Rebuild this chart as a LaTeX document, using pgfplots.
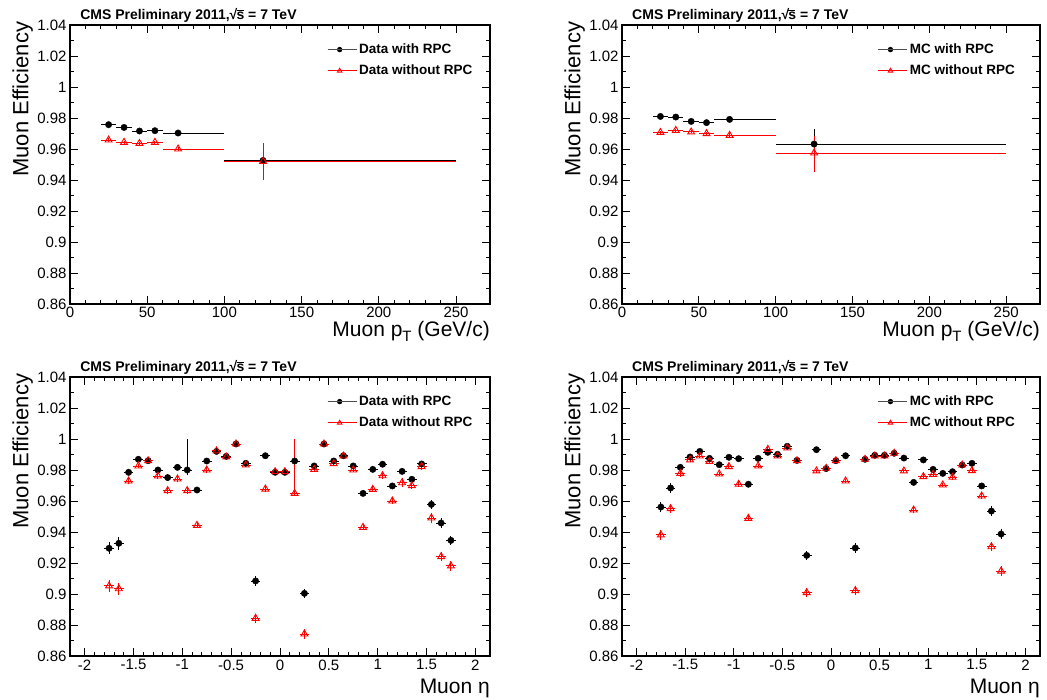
\documentclass[border=0pt]{standalone}
\usepackage{fontspec}
\setmainfont{Liberation Sans}
\usepackage{pgfplots}
\pgfplotsset{compat=1.18}
\usepackage{pgfplotstable}

% ---- pT data: x y exm exp eym eyp
\pgfplotstableread{
x y exm exp eym eyp
25 0.9757 5 5 0.001 0.001
35 0.9739 5 5 0.001 0.001
45 0.9716 5 5 0.001 0.001
55 0.9718 5 5 0.001 0.001
70 0.9703 10 30 0.0015 0.0015
125 0.9526 25 125 0.011 0.011
}\ptDataRPC
\pgfplotstableread{
x y exm exp eym eyp
25 0.9658 5 5 0.001 0.001
35 0.9643 5 5 0.001 0.001
45 0.9636 5 5 0.001 0.001
55 0.9643 5 5 0.001 0.001
70 0.9600 10 30 0.0015 0.0015
125 0.9520 25 125 0.012 0.012
}\ptDataNoRPC
\pgfplotstableread{
x y exm exp eym eyp
25 0.9810 5 5 0.001 0.001
35 0.9806 5 5 0.001 0.001
45 0.9778 5 5 0.001 0.001
55 0.9770 5 5 0.001 0.001
70 0.9791 10 30 0.0015 0.0015
125 0.9632 25 125 0.010 0.010
}\ptMCRPC
\pgfplotstableread{
x y exm exp eym eyp
25 0.9707 5 5 0.001 0.001
35 0.9720 5 5 0.001 0.001
45 0.9710 5 5 0.001 0.001
55 0.9699 5 5 0.001 0.001
70 0.9688 10 30 0.0015 0.0015
125 0.9574 25 125 0.012 0.011
}\ptMCNoRPC

% ---- eta data: x y eym eyp
\pgfplotstableread{
x y eym eyp
-1.75 0.9295 0.004 0.004
-1.65 0.9327 0.004 0.004
-1.55 0.9785 0.002 0.002
-1.45 0.9869 0.0015 0.0015
-1.35 0.9860 0.0015 0.0015
-1.25 0.9800 0.002 0.002
-1.15 0.9751 0.002 0.002
-1.05 0.9817 0.002 0.002
-0.95 0.9800 0.003 0.020
-0.85 0.9671 0.002 0.002
-0.75 0.9858 0.0015 0.0015
-0.65 0.9920 0.0015 0.0015
-0.55 0.9888 0.0015 0.0015
-0.45 0.9968 0.001 0.001
-0.35 0.9843 0.0015 0.0015
-0.25 0.9084 0.003 0.003
-0.15 0.9892 0.0015 0.0015
-0.05 0.9785 0.002 0.002
0.05 0.9785 0.002 0.002
0.15 0.9858 0.002 0.002
0.25 0.9004 0.003 0.003
0.35 0.9826 0.0015 0.0015
0.45 0.9968 0.001 0.001
0.55 0.9858 0.0015 0.0015
0.65 0.9892 0.0015 0.0015
0.75 0.9826 0.0015 0.0015
0.85 0.9649 0.002 0.002
0.95 0.9804 0.002 0.002
1.05 0.9837 0.002 0.002
1.15 0.9697 0.002 0.002
1.25 0.9791 0.002 0.002
1.35 0.9740 0.002 0.002
1.45 0.9839 0.002 0.002
1.55 0.9578 0.003 0.003
1.65 0.9458 0.003 0.003
1.75 0.9346 0.003 0.003
}\etaDataRPC
\pgfplotstableread{
x y eym eyp
-1.75 0.9052 0.004 0.004
-1.65 0.9034 0.004 0.004
-1.55 0.9729 0.002 0.002
-1.45 0.9826 0.0015 0.0015
-1.35 0.9860 0.0015 0.0015
-1.25 0.9761 0.002 0.002
-1.15 0.9667 0.002 0.002
-1.05 0.9742 0.002 0.002
-0.95 0.9667 0.002 0.002
-0.85 0.9443 0.002 0.002
-0.75 0.9800 0.002 0.002
-0.65 0.9923 0.0015 0.0015
-0.55 0.9884 0.0015 0.0015
-0.45 0.9968 0.001 0.001
-0.35 0.9832 0.0015 0.0015
-0.25 0.8843 0.003 0.003
-0.15 0.9677 0.002 0.002
-0.05 0.9789 0.002 0.002
0.05 0.9789 0.002 0.002
0.15 0.9649 0.002 0.035
0.25 0.8742 0.003 0.003
0.35 0.9804 0.0015 0.0015
0.45 0.9968 0.001 0.001
0.55 0.9841 0.0015 0.0015
0.65 0.9890 0.0015 0.0015
0.75 0.9800 0.0015 0.0015
0.85 0.9430 0.002 0.002
0.95 0.9675 0.002 0.002
1.05 0.9763 0.002 0.002
1.15 0.9600 0.002 0.002
1.25 0.9718 0.003 0.003
1.35 0.9699 0.002 0.002
1.45 0.9822 0.002 0.002
1.55 0.9490 0.003 0.003
1.65 0.9241 0.003 0.003
1.75 0.9181 0.003 0.003
}\etaDataNoRPC
\pgfplotstableread{
x y eym eyp
-1.75 0.9561 0.003 0.003
-1.65 0.9684 0.003 0.003
-1.55 0.9817 0.002 0.002
-1.45 0.9884 0.0015 0.0015
-1.35 0.9920 0.0015 0.0015
-1.25 0.9875 0.0015 0.0015
-1.15 0.9834 0.0015 0.0015
-1.05 0.9882 0.0015 0.0015
-0.95 0.9873 0.0015 0.0015
-0.85 0.9708 0.002 0.002
-0.75 0.9875 0.0015 0.0015
-0.65 0.9914 0.0015 0.0015
-0.55 0.9901 0.0015 0.0015
-0.45 0.9953 0.001 0.001
-0.35 0.9862 0.0015 0.0015
-0.25 0.9249 0.003 0.003
-0.15 0.9931 0.0015 0.0015
-0.05 0.9809 0.0015 0.0015
0.05 0.9860 0.0015 0.0015
0.15 0.9892 0.0015 0.0015
0.25 0.9297 0.003 0.003
0.35 0.9869 0.0015 0.0015
0.45 0.9895 0.0015 0.0015
0.55 0.9895 0.0015 0.0015
0.65 0.9908 0.0015 0.0015
0.75 0.9877 0.0015 0.0015
0.85 0.9720 0.0015 0.0015
0.95 0.9865 0.0015 0.0015
1.05 0.9804 0.0015 0.0015
1.15 0.9778 0.0015 0.0015
1.25 0.9789 0.0015 0.0015
1.35 0.9832 0.0015 0.0015
1.45 0.9843 0.0015 0.0015
1.55 0.9697 0.002 0.002
1.65 0.9535 0.003 0.003
1.75 0.9387 0.003 0.003
}\etaMCRPC
\pgfplotstableread{
x y eym eyp
-1.75 0.9381 0.003 0.003
-1.65 0.9551 0.003 0.003
-1.55 0.9778 0.002 0.002
-1.45 0.9865 0.0015 0.0015
-1.35 0.9890 0.0015 0.0015
-1.25 0.9856 0.0015 0.0015
-1.15 0.9774 0.0015 0.0015
-1.05 0.9822 0.0015 0.0015
-0.95 0.9708 0.002 0.002
-0.85 0.9488 0.002 0.002
-0.75 0.9826 0.0015 0.0015
-0.65 0.9933 0.0015 0.0015
-0.55 0.9890 0.0015 0.0015
-0.45 0.9942 0.0015 0.0015
-0.35 0.9860 0.0015 0.0015
-0.25 0.9009 0.003 0.003
-0.15 0.9794 0.0015 0.0015
-0.05 0.9811 0.0015 0.0015
0.05 0.9860 0.0015 0.0015
0.15 0.9729 0.0015 0.0015
0.25 0.9022 0.003 0.003
0.35 0.9869 0.0015 0.0015
0.45 0.9890 0.0015 0.0015
0.55 0.9890 0.0015 0.0015
0.65 0.9908 0.0015 0.0015
0.75 0.9794 0.0015 0.0015
0.85 0.9542 0.002 0.002
0.95 0.9757 0.0015 0.0015
1.05 0.9772 0.0015 0.0015
1.15 0.9703 0.0015 0.0015
1.25 0.9753 0.0015 0.0015
1.35 0.9832 0.0015 0.0015
1.45 0.9796 0.0015 0.0015
1.55 0.9632 0.002 0.002
1.65 0.9305 0.003 0.003
1.75 0.9148 0.003 0.003
}\etaMCNoRPC

\newcommand{\sqrts}{\mbox{√\kern-0.06em\rlap{\rule[0.66em]{0.5em}{0.07em}}s}}

\pgfplotsset{
  rootaxis/.style={
    scale only axis, height=279pt,
    ymin=0.86, ymax=1.04,
    ytick={0.86,0.88,0.9,0.92,0.94,0.96,0.98,1,1.02,1.04},
    yticklabels={0.86,0.88,0.9,0.92,0.94,0.96,0.98,1,1.02,1.04},
    minor y tick num=1,
    tick align=inside,
    major tick length=8pt, minor tick length=4pt,
    axis line style={line width=1.4pt},
    tick style={line width=0.8pt, black},
    tick label style={font=\fontsize{15}{15}\selectfont},
    /pgf/number format/assume math mode=true,
    ylabel={Muon Efficiency},
    every axis y label/.style={at={(axis description cs:-0.088,1.012)}, rotate=90, anchor=south east, inner sep=0pt, font=\fontsize{22}{22}\selectfont},
    every axis x label/.style={at={(axis description cs:1,0)}, anchor=north east, yshift=-17pt, inner sep=0pt, font=\fontsize{21}{21}\selectfont},
    title={CMS Preliminary 2011,\sqrts{} = 7 TeV},
    every axis title/.style={at={(axis description cs:0.024,1)}, anchor=base west, yshift=5pt, inner sep=0pt, font=\bfseries\fontsize{14}{14}\selectfont},
    legend style={draw=none, fill=none, at={(axis description cs:0.612,0.94)}, anchor=north west, font=\bfseries\fontsize{13.5}{14}\selectfont, row sep=6pt, inner sep=0pt},
    legend cell align=left,
    legend image code/.code={\draw[mark repeat=2,mark phase=2,#1] plot coordinates {(0pt,0pt)(12pt,0pt)(24pt,0pt)}; \path (0pt,0pt) -- (29pt,0pt);},
  },
  ptaxis/.style={rootaxis, xmin=0, xmax=272, xtick={0,50,100,150,200,250}, minor x tick num=4,
    xlabel={Muon p\raisebox{-0.45ex}{\fontsize{15}{15}\selectfont T} (GeV/c)}},
  etaaxis/.style={rootaxis, xmin=-2.15, xmax=2.15, xtick={-2,-1.5,-1,-0.5,0,0.5,1,1.5,2},
    xticklabels={-2,-1.5,-1,-0.5,0,0.5,1,1.5,2}, minor x tick num=4,
    xlabel={Muon η}, every axis x label/.append style={yshift=-6pt}},
  blk/.style={black, only marks, mark=*, mark size=3.2pt, forget plot,
    error bars/.cd, x dir=both, x explicit, y dir=both, y explicit, error mark=none,
    error bar style={line width=0.9pt, black}},
  rd/.style={red, only marks, mark=triangle, mark size=4pt, mark options={line width=0.9pt}, forget plot,
    error bars/.cd, x dir=both, x explicit, y dir=both, y explicit, error mark=none,
    error bar style={line width=0.9pt, red}},
}

\begin{document}
\begin{tikzpicture}
\useasboundingbox (0pt,0pt) rectangle (1047pt,700pt);

% top-left
\begin{axis}[ptaxis, width=420pt, at={(70pt,396pt)}, anchor=south west]
\addplot[blk] table[x=x,y=y,x error minus=exm,x error plus=exp,y error minus=eym,y error plus=eyp]{\ptDataRPC};
\addplot[rd] table[x=x,y=y,x error minus=exm,x error plus=exp,y error minus=eym,y error plus=eyp]{\ptDataNoRPC};
\addlegendimage{black!70, line width=0.9pt, mark=*, mark size=2.2pt, mark options={black}}
\addlegendentry{Data with RPC}
\addlegendimage{red, line width=0.9pt, mark=triangle, mark size=2.6pt}
\addlegendentry{Data without RPC}
\end{axis}

% top-right
\begin{axis}[ptaxis, width=418pt, at={(622pt,396pt)}, anchor=south west]
\addplot[blk] table[x=x,y=y,x error minus=exm,x error plus=exp,y error minus=eym,y error plus=eyp]{\ptMCRPC};
\addplot[rd] table[x=x,y=y,x error minus=exm,x error plus=exp,y error minus=eym,y error plus=eyp]{\ptMCNoRPC};
\addlegendimage{black!70, line width=0.9pt, mark=*, mark size=2.2pt, mark options={black}}
\addlegendentry{MC with RPC}
\addlegendimage{red, line width=0.9pt, mark=triangle, mark size=2.6pt}
\addlegendentry{MC without RPC}
\end{axis}

% bottom-left
\begin{axis}[etaaxis, width=420pt, at={(70pt,44pt)}, anchor=south west]
\addplot[blk] table[x=x,y=y,x error minus expr=0.05,x error plus expr=0.05,y error minus=eym,y error plus=eyp]{\etaDataRPC};
\addplot[rd] table[x=x,y=y,x error minus expr=0.05,x error plus expr=0.05,y error minus=eym,y error plus=eyp]{\etaDataNoRPC};
\addlegendimage{black!70, line width=0.9pt, mark=*, mark size=2.2pt, mark options={black}}
\addlegendentry{Data with RPC}
\addlegendimage{red, line width=0.9pt, mark=triangle, mark size=2.6pt}
\addlegendentry{Data without RPC}
\end{axis}

% bottom-right
\begin{axis}[etaaxis, width=418pt, at={(622pt,44pt)}, anchor=south west]
\addplot[blk] table[x=x,y=y,x error minus expr=0.05,x error plus expr=0.05,y error minus=eym,y error plus=eyp]{\etaMCRPC};
\addplot[rd] table[x=x,y=y,x error minus expr=0.05,x error plus expr=0.05,y error minus=eym,y error plus=eyp]{\etaMCNoRPC};
\addlegendimage{black!70, line width=0.9pt, mark=*, mark size=2.2pt, mark options={black}}
\addlegendentry{MC with RPC}
\addlegendimage{red, line width=0.9pt, mark=triangle, mark size=2.6pt}
\addlegendentry{MC without RPC}
\end{axis}
\end{tikzpicture}
\end{document}
